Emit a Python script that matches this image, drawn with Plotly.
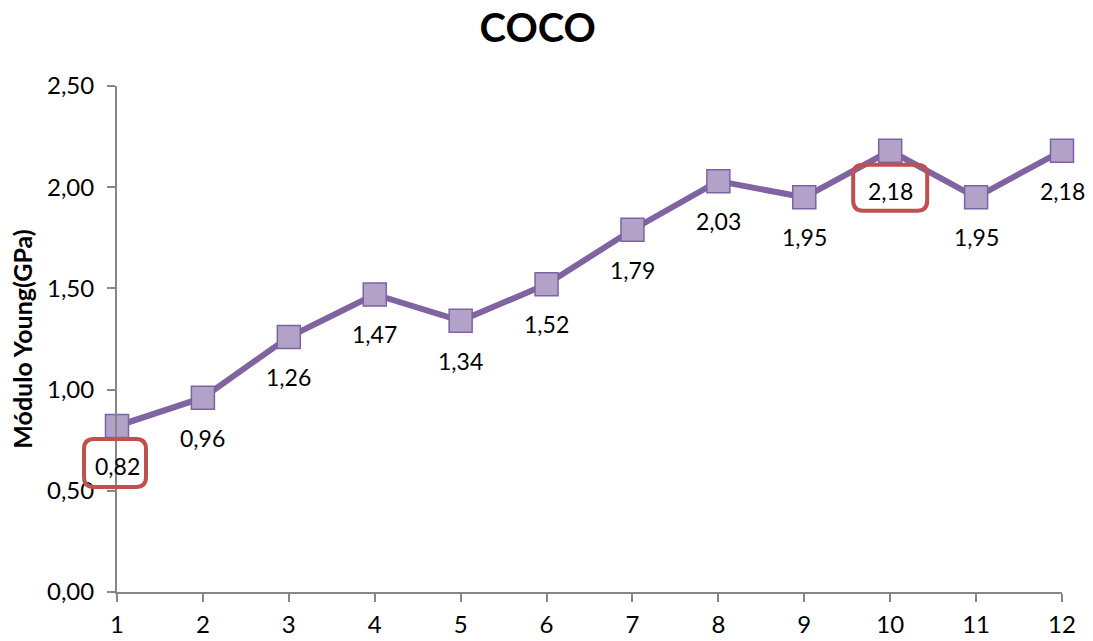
import plotly.graph_objects as go

categories = [1, 2, 3, 4, 5, 6, 7, 8, 9, 10, 11, 12]
values = [0.82, 0.96, 1.26, 1.47, 1.34, 1.52, 1.79, 2.03, 1.95, 2.18, 1.95, 2.18]
labels = ["0,82", "0,96", "1,26", "1,47", "1,34", "1,52", "1,79", "2,03", "1,95", "2,18", "1,95", "2,18"]
highlighted = [1, 10]
y_ticks = [0, 0.5, 1.0, 1.5, 2.0, 2.5]
y_tick_labels = ["0,00", "0,50", "1,00", "1,50", "2,00", "2,50"]

FONT = "Lato"
X_RANGE = [1, 12]
Y_RANGE = [0, 2.5]

fig = go.Figure()
fig.add_trace(go.Scatter(
    x=categories, y=values, mode="lines+markers",
    line=dict(color="#8064A2", width=6),
    marker=dict(symbol="square", size=23, color="#B3A2C7",
                line=dict(color="#7E62A6", width=1.5)),
    cliponaxis=False, showlegend=False,
))

for c, v, t in zip(categories, values, labels):
    fig.add_annotation(x=c, y=v, text=t, showarrow=False, yshift=-40,
                       font=dict(family=FONT, size=23, color="black"))


def rounded_path(cx, cy, w, h, r):
    x0, x1 = cx - w / 2, cx + w / 2
    y0, y1 = cy - h / 2, cy + h / 2
    return (f"M {x0+r},{y0} L {x1-r},{y0} Q {x1},{y0} {x1},{y0+r} "
            f"L {x1},{y1-r} Q {x1},{y1} {x1-r},{y1} L {x0+r},{y1} "
            f"Q {x0},{y1} {x0},{y1-r} L {x0},{y0+r} Q {x0},{y0} {x0+r},{y0} Z")


box_sizes = {1: (62, 48), 10: (74, 46)}
for c in highlighted:
    v = values[categories.index(c)]
    w, h = box_sizes[c]
    fig.add_shape(type="path", xref="paper", yref="paper", xsizemode="pixel", ysizemode="pixel",
                  xanchor=(c - X_RANGE[0]) / (X_RANGE[1] - X_RANGE[0]),
                  yanchor=(v - Y_RANGE[0]) / (Y_RANGE[1] - Y_RANGE[0]),
                  path=rounded_path(-2 if c == 1 else 0, -37, w, h, 10),
                  line=dict(color="#C0504D", width=4), fillcolor="rgba(0,0,0,0)")

fig.update_layout(
    width=1093, height=641,
    margin=dict(l=117, r=31, t=86, b=49),
    paper_bgcolor="white", plot_bgcolor="white",
    title=dict(text="<b>COCO</b>", x=0.492, xanchor="center", y=0.957, yanchor="middle",
               font=dict(family=FONT, size=40, color="black")),
    font=dict(family=FONT, color="black"),
)
fig.update_xaxes(
    range=X_RANGE, tickmode="array", tickvals=categories, ticktext=[str(c) for c in categories],
    showgrid=False, zeroline=False, showline=True, linecolor="#868686", linewidth=2,
    ticks="outside", ticklen=8, tickcolor="#868686", tickwidth=2,
    tickfont=dict(family=FONT, size=24, color="black"), ticklabelstandoff=2,
    automargin=False,
)
fig.update_yaxes(
    range=Y_RANGE, tickmode="array", tickvals=y_ticks, ticktext=y_tick_labels,
    showgrid=False, zeroline=False, showline=True, linecolor="#868686", linewidth=2,
    ticks="outside", ticklen=8, tickcolor="#868686", tickwidth=2,
    tickfont=dict(family=FONT, size=24, color="black"), ticklabelstandoff=8,
    title=dict(text="<b>Módulo Young(GPa)</b>", standoff=7,
               font=dict(family=FONT, size=25, color="black")),
    automargin=False,
)

fig.write_html("out.html", config={"displayModeBar": False},
               post_script="document.body.style.margin='0';")
